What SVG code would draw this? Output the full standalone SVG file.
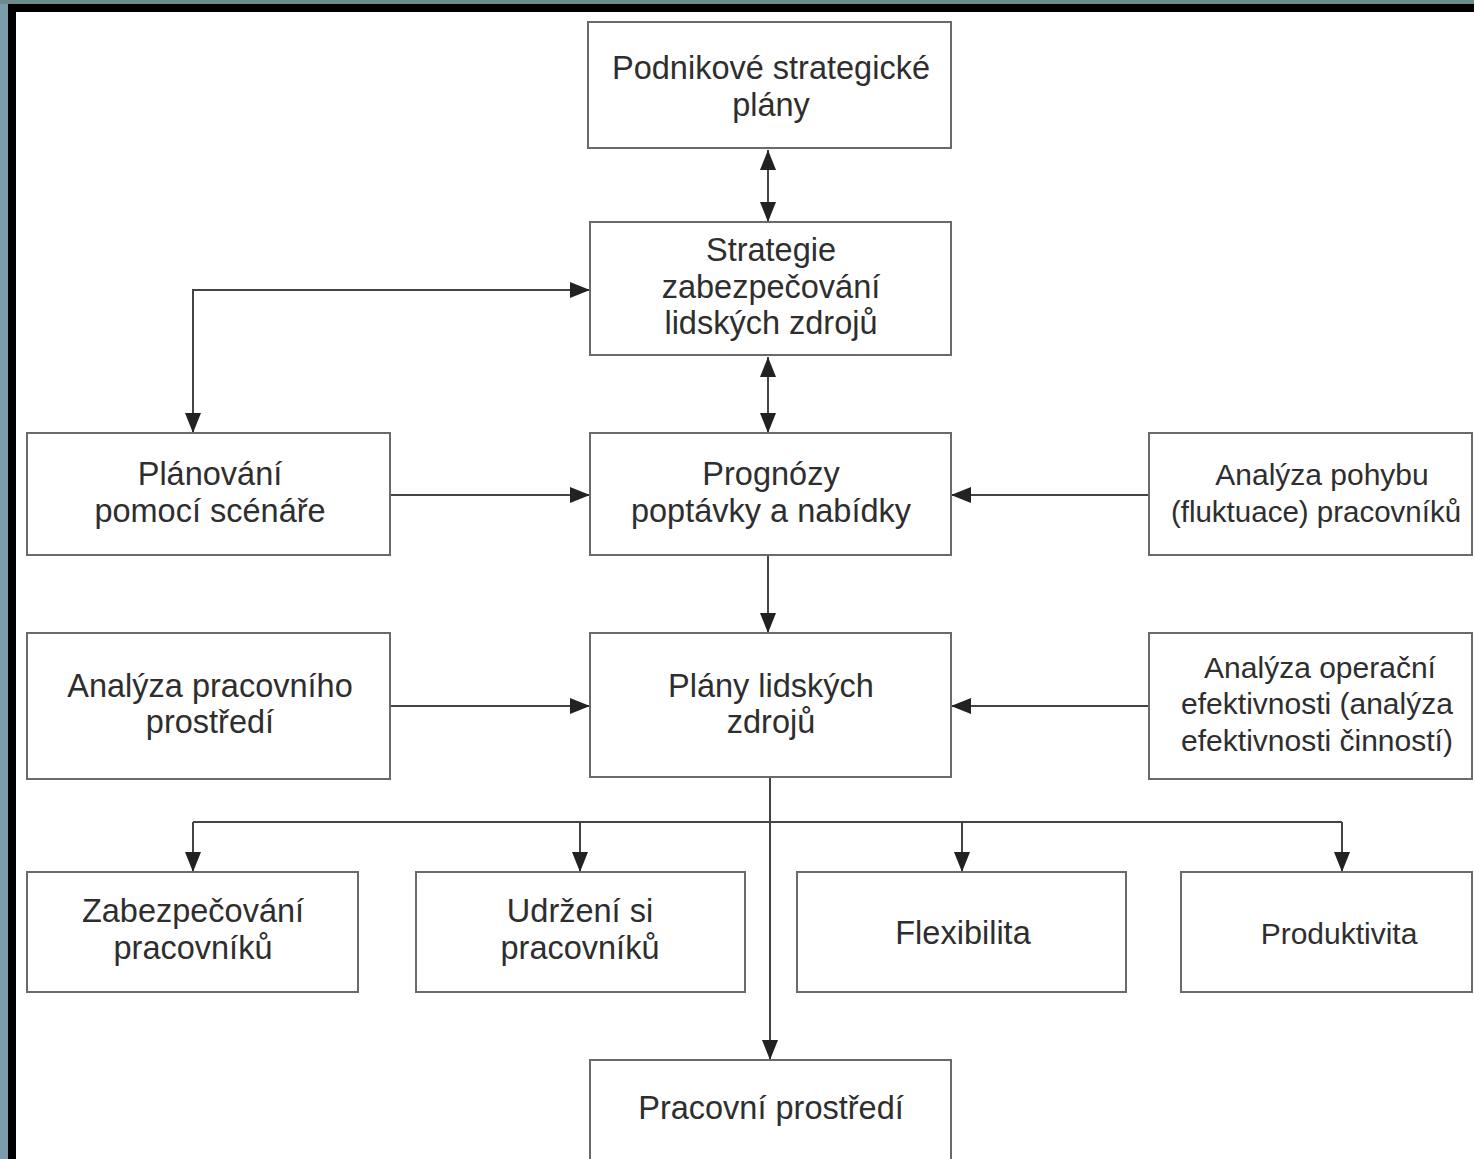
<svg xmlns="http://www.w3.org/2000/svg" width="1474" height="1159" viewBox="0 0 1474 1159">
<style>
.box{fill:#fff;stroke:#6a6a6a;stroke-width:2}
.t{font-family:"Liberation Sans",Arial,sans-serif;font-size:32.5px;fill:#2e2e2e;text-anchor:middle}
.n{font-size:30px}
.c{fill:none;stroke:#444;stroke-width:2}
</style>
<defs>
<marker id="ah" markerUnits="userSpaceOnUse" viewBox="0 0 20 16" refX="20" refY="8" markerWidth="20" markerHeight="16" orient="auto-start-reverse">
<path d="M0,0 L20,8 L0,16 z" fill="#222"/>
</marker>
</defs>
<rect x="0" y="0" width="1474" height="1159" fill="#fff"/>
<rect x="0" y="0" width="8" height="1159" fill="#7c9cab"/>
<rect x="0" y="0" width="1474" height="4" fill="#6f8a8a"/>
<rect x="8" y="4" width="8" height="1155" fill="#000"/>
<rect x="8" y="4" width="1466" height="8" fill="#000"/>

<g id="connectors">
<path class="c" d="M768,150 L768,222" marker-start="url(#ah)" marker-end="url(#ah)"/>
<path class="c" d="M768,357 L768,433" marker-start="url(#ah)" marker-end="url(#ah)"/>
<path class="c" d="M590,290 L193,290 L193,433" marker-start="url(#ah)" marker-end="url(#ah)"/>
<path class="c" d="M390,495 L590,495" marker-end="url(#ah)"/>
<path class="c" d="M1149,495 L951,495" marker-end="url(#ah)"/>
<path class="c" d="M768,555 L768,633" marker-end="url(#ah)"/>
<path class="c" d="M390,706 L590,706" marker-end="url(#ah)"/>
<path class="c" d="M1149,706 L951,706" marker-end="url(#ah)"/>
<path class="c" d="M770,777 L770,1060" marker-end="url(#ah)"/>
<path class="c" d="M193,822 L1342,822"/>
<path class="c" d="M193,822 L193,872" marker-end="url(#ah)"/>
<path class="c" d="M580,822 L580,872" marker-end="url(#ah)"/>
<path class="c" d="M962,822 L962,872" marker-end="url(#ah)"/>
<path class="c" d="M1342,822 L1342,872" marker-end="url(#ah)"/>
</g>

<g id="n1"><rect class="box" x="588" y="22" width="363" height="126"/>
<text class="t" x="771" y="79">Podnikové strategické</text><text class="t" x="771" y="116">plány</text></g>
<g id="n2"><rect class="box" x="590" y="222" width="361" height="133"/>
<text class="t" x="771" y="261">Strategie</text><text class="t" x="771" y="298">zabezpečování</text><text class="t" x="771" y="334">lidských zdrojů</text></g>
<g id="n3"><rect class="box" x="27" y="433" width="363" height="122"/>
<text class="t" x="210" y="485">Plánování</text><text class="t" x="210" y="522">pomocí scénáře</text></g>
<g id="n4"><rect class="box" x="590" y="433" width="361" height="122"/>
<text class="t" x="771" y="485">Prognózy</text><text class="t" x="771" y="522">poptávky a nabídky</text></g>
<g id="n5"><rect class="box" x="1149" y="433" width="323" height="122"/>
<text class="t n" x="1322" y="485">Analýza pohybu</text><text class="t" x="1316" y="522" style="font-size:29.5px">(fluktuace) pracovníků</text></g>
<g id="n6"><rect class="box" x="27" y="633" width="363" height="146"/>
<text class="t" x="210" y="697">Analýza pracovního</text><text class="t" x="210" y="733">prostředí</text></g>
<g id="n7"><rect class="box" x="590" y="633" width="361" height="144"/>
<text class="t" x="771" y="697">Plány lidských</text><text class="t" x="771" y="733">zdrojů</text></g>
<g id="n8"><rect class="box" x="1149" y="633" width="323" height="146"/>
<text class="t n" x="1320" y="678">Analýza operační</text><text class="t n" x="1317" y="714">efektivnosti (analýza</text><text class="t n" x="1317" y="751">efektivnosti činností)</text></g>
<g id="n9"><rect class="box" x="27" y="872" width="331" height="120"/>
<text class="t" x="193" y="922">Zabezpečování</text><text class="t" x="193" y="959">pracovníků</text></g>
<g id="n10"><rect class="box" x="416" y="872" width="329" height="120"/>
<text class="t" x="580" y="922">Udržení si</text><text class="t" x="580" y="959">pracovníků</text></g>
<g id="n11"><rect class="box" x="797" y="872" width="329" height="120"/>
<text class="t" x="963" y="944">Flexibilita</text></g>
<g id="n12"><rect class="box" x="1181" y="872" width="291" height="120"/>
<text class="t n" x="1339" y="944">Produktivita</text></g>
<g id="n13"><rect class="box" x="590" y="1060" width="361" height="110"/>
<text class="t" x="771" y="1119">Pracovní prostředí</text></g>
</svg>
